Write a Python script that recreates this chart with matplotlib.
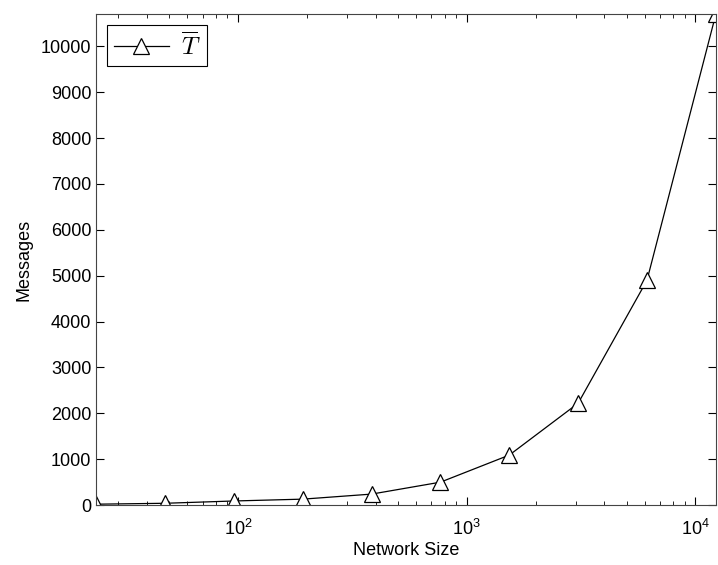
import matplotlib
matplotlib.use("Agg")
import matplotlib.pyplot as plt
from matplotlib.ticker import LogLocator, NullFormatter

plt.rcParams['font.family'] = ['Liberation Sans', 'DejaVu Sans']
plt.rcParams['mathtext.fontset'] = 'cm'

network_size = [24, 48, 96, 192, 384, 768, 1536, 3072, 6144, 12288]
messages = [20, 40, 90, 130, 240, 500, 1090, 2220, 4900, 10700]

fig = plt.figure(figsize=(7.18, 5.65), dpi=100)
ax = fig.add_axes([0.134, 0.106, 0.863, 0.869])
ax.plot(network_size, messages, color='black', linewidth=0.9, marker='^',
        markersize=11, markerfacecolor='white', markeredgecolor='black',
        markeredgewidth=0.9, label=r'$\overline{T}$')
ax.set_xscale('log')
ax.set_xlim(24, 12288)
ax.set_ylim(0, 10700)
ax.set_yticks(range(0, 10001, 1000))
ax.xaxis.set_minor_locator(LogLocator(base=10, subs=range(2, 10), numticks=20))
ax.xaxis.set_minor_formatter(NullFormatter())
ax.tick_params(which='both', direction='in', top=True, right=True, labelsize=13)
ax.tick_params(which='major', length=6)
ax.tick_params(which='minor', length=3)
ax.tick_params(axis='x', which='major', pad=10)
for s in ax.spines.values():
    s.set_linewidth(0.8)
    s.set_color('#444444')
ax.set_xlabel('Network Size', fontsize=13, labelpad=2)
ax.set_ylabel('Messages', fontsize=13, labelpad=6)
leg = ax.legend(loc='upper left', fontsize=18, fancybox=False, framealpha=1,
                edgecolor='black', handlelength=2.2, handletextpad=0.5,
                borderpad=0.25, borderaxespad=0.45)
leg.get_frame().set_linewidth(0.8)
fig.savefig('out.png', dpi=100)
